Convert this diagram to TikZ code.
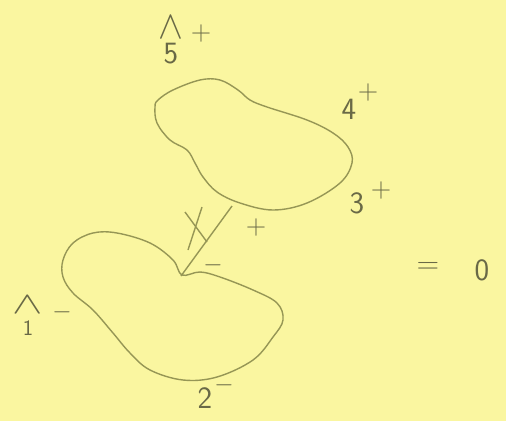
\documentclass[tikz,border=0pt]{standalone}
\usetikzlibrary{calc}
\definecolor{paper}{RGB}{250,246,160}
\definecolor{pen}{RGB}{150,150,85}
\definecolor{ink}{RGB}{105,105,70}
\begin{document}
\begin{tikzpicture}[x=1pt,y=-1pt,
  blob/.style={draw=pen,line width=1.4pt},
  prop/.style={draw=pen,line width=1.4pt},
  lbl/.style={text=ink,font=\sffamily\fontsize{31}{33}\selectfont,inner sep=0pt},
  hatlbl/.style={text=ink,font=\sffamily\fontsize{31}{25}\selectfont,inner sep=0pt,align=center},
  sgn/.style={text=ink,font=\sffamily\fontsize{28}{30}\selectfont,inner sep=0pt}]
\fill[paper] (0,0) rectangle (506,421);
\useasboundingbox (0,0) rectangle (506,421);
% upper blob
\draw[blob] plot[smooth cycle,tension=0.6] coordinates {
 (155,107) (157,123) (170,140) (187,150) (195,163) (203,177) (217,192)
 (240,203) (273,210) (307,203) (340,183) (352,163) (348,147) (333,133)
 (307,120) (267,107) (250,100) (238,90) (220,80) (200,80) (173,90) (158,100)};
% lower blob
\draw[blob] plot[smooth cycle,tension=0.6] coordinates {
 (182,275) (173,260) (150,243) (117,233) (93,233) (73,243) (63,260)
 (63,277) (73,293) (93,310) (113,333) (130,353) (150,370) (183,380)
 (217,377) (253,360) (273,337) (283,320) (277,303) (253,290) (220,277) (200,272)};
% propagator
\coordinate (top) at (232,206);
\coordinate (bot) at (181,276);
\draw[prop] (top) -- (bot);
% cut mark
\coordinate (c1) at (185,212);
\coordinate (c2) at (207,242);
\coordinate (c3) at (202,207);
\coordinate (c4) at (188,250);
\draw[prop] (c1) -- (c2);
\draw[prop] (c3) -- (c4);
% labels
\node[hatlbl] (l5) at (171,40) {\scalebox{1.5}[1.6]{$\wedge$}\\5};
\node[sgn] (p5) at (201,34) {+};
\node[lbl] (l4) at (349,109) {4};
\node[sgn] (p4) at (368,93) {+};
\node[lbl] (l3) at (357,203) {3};
\node[sgn] (p3) at (381,191) {+};
\node[sgn] (pp) at (256,228) {+};
\node[sgn] (mm) at (213,265) {$-$};
\node[hatlbl,font=\sffamily\fontsize{22}{22}\selectfont] (l1) at (28,316) {\scalebox{2.2}[1.5]{$\wedge$}\\1};
\node[sgn] (m1) at (62,312) {$-$};
\node[lbl] (l2) at (205,398) {2};
\node[sgn] (m2) at (224,385) {$-$};
\node[lbl] (eq) at (428,268) {=};
\node[lbl] (zero) at (482,270) {0};
\end{tikzpicture}
\end{document}
